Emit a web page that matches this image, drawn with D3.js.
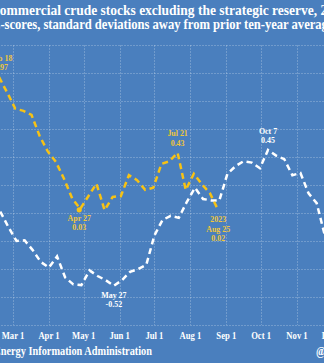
<!DOCTYPE html>
<html lang="en">
<head>
<meta charset="utf-8">
<script src="https://cdn.jsdelivr.net/npm/d3@7"></script>
<style>
  body { margin: 0; background: #4a7fbe; overflow: hidden; }
  svg { display: block; }
  text { font-family: "Liberation Serif", "Times New Roman", serif; font-weight: bold; }
</style>
</head>
<body>
<div id="chart"></div>
<script>

// weekly z-scores, every date moved onto one 2023 calendar so both years share the axis
var yellowDates = ["02-17","02-24","03-03","03-10","03-17","03-24","03-31","04-07","04-14","04-21",
                   "04-28","05-05","05-12","05-19","05-26","06-02","06-09","06-16","06-23","06-30",
                   "07-07","07-14","07-21","07-28","08-04","08-11","08-18","08-25"];
var yellowValues = [0.97, 0.86, 0.745, 0.73, 0.70, 0.55, 0.44, 0.365, 0.245, 0.105,
                    0.03, 0.12, 0.21, 0.02, 0.115, 0.12, 0.27, 0.235, 0.165, 0.18,
                    0.35, 0.37, 0.43, 0.165, 0.28, 0.205, 0.14, 0.02];

var whiteDates = ["02-18","02-25","03-04","03-11","03-18","03-25","04-01","04-08","04-15","04-22",
                  "04-29","05-06","05-13","05-20","05-27","06-03","06-10","06-17","06-24","07-01",
                  "07-08","07-15","07-22","07-29","08-05","08-12","08-19","08-26","09-02","09-09",
                  "09-16","09-23","09-30","10-07","10-14","10-21","10-28","11-04","11-11","11-18","11-25"];
var whiteValues = [0.01, -0.10, -0.20, -0.195, -0.265, -0.35, -0.39, -0.31, -0.46, -0.51,
                   -0.515, -0.41, -0.45, -0.48, -0.52, -0.48, -0.42, -0.40, -0.37, -0.16,
                   -0.05, -0.02, -0.035, 0.08, 0.18, 0.10, 0.09, 0.09, 0.28, 0.335,
                   0.37, 0.36, 0.32, 0.45, 0.41, 0.385, 0.27, 0.285, 0.14, 0.07, -0.16];

var monthTicks = ["02-01","03-01","04-01","05-01","06-01","07-01","08-01","09-01","10-01","11-01","12-01"];
var yTicks = [-0.8, -0.6, -0.4, -0.2, 0, 0.2, 0.4, 0.6, 0.8, 1.0, 1.2];

// callouts: which series, which point, text lines
var notes = [
  {series: "yellow", date: "02-17", lines: ["Feb 18", "0.97"], below: false, dx: 2},
  {series: "yellow", date: "04-28", lines: ["Apr 27", "0.03"], below: true, dx: -1, dot: true},
  {series: "yellow", date: "07-21", lines: ["Jul 21", "0.43"], below: false, dx: 0},
  {series: "yellow", date: "08-25", lines: ["2023", "Aug 25", "0.02"], below: true, dx: 0},
  {series: "white", date: "10-07", lines: ["Oct 7", "0.45"], below: false, dx: 0},
  {series: "white", date: "05-27", lines: ["May 27", "-0.52"], below: true, dx: 0}
];

var W = 324, H = 363;
var bg = "#4a7fbe", yellow = "#f7c214", yellowText = "#efc63a";

var parse = d3.timeParse("%Y-%m-%d");
function day(s) { return parse("2023-" + s); }

var yellowData = yellowDates.map(function(d, i) { return {date: day(d), value: yellowValues[i]}; });
var whiteData = whiteDates.map(function(d, i) { return {date: day(d), value: whiteValues[i]}; });

var x = d3.scaleTime()
    .domain([day("03-01"), day("11-01")])
    .range([13, 297]);
var y = d3.scaleLinear()
    .domain([-0.8, 1.2])
    .range([325, 45]);

var svg = d3.select("#chart").append("svg")
    .attr("width", W)
    .attr("height", H);

svg.append("rect").attr("width", W).attr("height", H).attr("fill", bg);

// the serif in the original is narrow, so text gets squeezed a bit horizontally
function label(g, px, py, str, size, anchor, fill, sx) {
  return g.append("text")
    .attr("transform", "translate(" + px + "," + py + ") scale(" + sx + ",1)")
    .attr("text-anchor", anchor)
    .attr("font-size", size + "px")
    .attr("fill", fill)
    .text(str);
}

// grid
var grid = svg.append("g")
    .attr("stroke", "rgba(255,255,255,0.22)")
    .attr("stroke-width", 1)
    .attr("stroke-dasharray", "2,1");
grid.selectAll(".gx")
  .data(monthTicks)
  .enter().append("line")
    .attr("x1", function(d) { return Math.round(x(day(d))) + 0.5; })
    .attr("x2", function(d) { return Math.round(x(day(d))) + 0.5; })
    .attr("y1", y(1.2))
    .attr("y2", y(-0.8));
grid.selectAll(".gy")
  .data(yTicks)
  .enter().append("line")
    .attr("x1", -20)
    .attr("x2", W + 20)
    .attr("y1", function(d) { return Math.round(y(d)) + 0.5; })
    .attr("y2", function(d) { return Math.round(y(d)) + 0.5; });

// month labels
var fmt = d3.timeFormat("%b %-d");
var xAxis = svg.append("g");
monthTicks.forEach(function(d) {
  label(xAxis, x(day(d)), 339, fmt(day(d)), 10.5, "middle", "#ffffff", 0.82);
});

var line = d3.line()
    .x(function(d) { return x(d.date); })
    .y(function(d) { return y(d.value); });

svg.append("path")
    .datum(whiteData)
    .attr("fill", "none")
    .attr("stroke", "#ffffff")
    .attr("stroke-width", 2.5)
    .attr("stroke-dasharray", "6,4")
    .attr("d", line);

svg.append("path")
    .datum(yellowData)
    .attr("fill", "none")
    .attr("stroke", yellow)
    .attr("stroke-width", 2.5)
    .attr("stroke-dasharray", "6,4")
    .attr("d", line);

// callouts
var ann = svg.append("g");
notes.forEach(function(n) {
  var src = n.series == "yellow" ? yellowData : whiteData;
  var pt = src.find(function(d) { return +d.date == +day(n.date); });
  var px = x(pt.date) + n.dx, py = y(pt.value);
  var col = n.series == "yellow" ? yellowText : "#ffffff";
  if (n.dot) {
    ann.append("circle").attr("cx", x(pt.date) - 1).attr("cy", py + 1).attr("r", 2.6).attr("fill", yellow);
  }
  n.lines.forEach(function(t, i) {
    var ly = n.below ? py + 12 + i * 9.3 : py - 7 - (n.lines.length - 1 - i) * 9.5;
    label(ann, px, ly, t, 9, "middle", col, 0.88);
  });
});

// titles and footer
label(svg, -10, 15, "Commercial crude stocks excluding the strategic reserve, 2022-23", 15, "start", "#ffffff", 0.9);
label(svg, -8, 28.5, "Z-scores, standard deviations away from prior ten-year average", 14, "start", "#ffffff", 0.9);
label(svg, 152, 355, "Source: U.S. Energy Information Administration", 12, "end", "#ffffff", 0.86);
label(svg, 316, 355, "@EconBlog", 12, "start", "#ffffff", 0.86);

</script>
</body>
</html>
